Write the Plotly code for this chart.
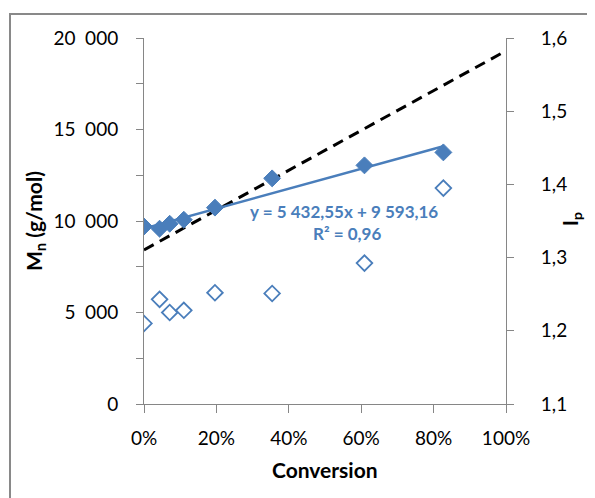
import plotly.graph_objects as go

# ---- data ----
conversion = [0.0, 0.043, 0.071, 0.110, 0.196, 0.354, 0.609, 0.827]
mn_values = [9700, 9580, 9850, 10070, 10730, 12330, 13040, 13750]
ip_values = [1.210, 1.243, 1.225, 1.228, 1.252, 1.251, 1.2925, 1.395]

theory_x = [0.0, 1.0]
theory_mn = [8420, 19300]

trend_slope = 5432.55
trend_intercept = 9593.16
trend_x = [0.0, 0.827]
trend_y = [trend_intercept + trend_slope * x for x in trend_x]

mn_tickvals = [0, 5000, 10000, 15000, 20000]
mn_ticktext = ["0", "5\u2002000", "10\u2002000", "15\u2002000", "20\u2002000"]
ip_tickvals = [1.1, 1.2, 1.3, 1.4, 1.5, 1.6]
ip_ticktext = ["1,1", "1,2", "1,3", "1,4", "1,5", "1,6"]
x_tickvals = [0, 0.2, 0.4, 0.6, 0.8, 1.0]
x_ticktext = ["0%", "20%", "40%", "60%", "80%", "100%"]

BLUE = "#4A7EBB"
AXIS = "#868686"
FONT = "Lato"

fig = go.Figure()

fig.add_trace(go.Scatter(
    x=theory_x, y=theory_mn, mode="lines",
    line=dict(color="black", width=3, dash="11px,7px"),
    showlegend=False, hoverinfo="skip"))

fig.add_trace(go.Scatter(
    x=trend_x, y=trend_y, mode="lines",
    line=dict(color=BLUE, width=2.5),
    showlegend=False, hoverinfo="skip"))

fig.add_trace(go.Scatter(
    x=conversion, y=mn_values, mode="markers",
    marker=dict(symbol="diamond", size=13, color=BLUE,
                line=dict(color=BLUE, width=1)),
    showlegend=False))

fig.add_trace(go.Scatter(
    x=conversion, y=ip_values, mode="markers", yaxis="y2",
    marker=dict(symbol="diamond-open", size=12, color=BLUE,
                line=dict(color=BLUE, width=1.8)),
    showlegend=False))

# page has an 8px body margin; work in screen pixels and shift
OFF = 8
W, H = 595 - OFF, 498 - OFF
X0, X1, Y0, Y1 = 144, 506, 38, 404   # plot area in screen pixels
L, T = X0 - OFF, Y0 - OFF
R, B = W - (X1 - OFF), H - (Y1 - OFF)
pw, ph = X1 - X0, Y1 - Y0


def px(xs):
    return (xs - X0) / pw


def py(ys):
    return (Y1 - ys) / ph


tick_font = dict(family=FONT, size=19, color="black")

fig.update_layout(
    width=W, height=H,
    margin=dict(l=L, r=R, t=T, b=B),
    paper_bgcolor="white", plot_bgcolor="white",
    font=dict(family=FONT, size=19, color="black"),
    xaxis=dict(
        range=[0, 1], tickvals=x_tickvals, ticktext=x_ticktext,
        showline=True, linecolor=AXIS, linewidth=1,
        ticks="outside", ticklen=8, tickcolor=AXIS, tickwidth=1,
        showgrid=False, zeroline=False, ticklabelstandoff=9,
        tickfont=tick_font,
    ),
    yaxis=dict(
        range=[0, 20000], tickvals=mn_tickvals, ticktext=mn_ticktext,
        showline=True, linecolor=AXIS, linewidth=1,
        ticks="outside", ticklen=7, tickcolor=AXIS, tickwidth=1,
        minor=dict(tickvals=[2500, 7500, 12500, 17500], ticks="outside",
                   ticklen=7, tickcolor=AXIS, tickwidth=1, showgrid=False),
        showgrid=False, zeroline=False, ticklabelstandoff=14,
        tickfont=tick_font,
    ),
    yaxis2=dict(
        range=[1.1, 1.6], tickvals=ip_tickvals, ticktext=ip_ticktext,
        overlaying="y", side="right",
        showline=True, linecolor=AXIS, linewidth=1,
        ticks="outside", ticklen=7, tickcolor=AXIS, tickwidth=1,
        showgrid=False, zeroline=False, ticklabelstandoff=23,
        tickfont=tick_font,
    ),
    shapes=[dict(
        type="rect", xref="paper", yref="paper",
        x0=px(10), x1=px(640), y0=py(540), y1=py(14),
        line=dict(color="#898989", width=2), fillcolor="rgba(0,0,0,0)",
        layer="above")],
    annotations=[
        dict(text="<b>Conversion</b>", x=px(325), y=py(469), xref="paper",
             yref="paper", showarrow=False, xanchor="center",
             yanchor="middle", font=dict(family=FONT, size=21)),
        dict(text="<b>M<sub>n</sub> (g/mol)</b>", x=px(35), y=py(221),
             xref="paper", yref="paper", showarrow=False, textangle=-90,
             xanchor="center", yanchor="middle",
             font=dict(family=FONT, size=21)),
        dict(text="<b>I<sub>p</sub></b>", x=px(571), y=py(219),
             xref="paper", yref="paper", showarrow=False, textangle=-90,
             xanchor="center", yanchor="middle",
             font=dict(family=FONT, size=20)),
        dict(text="<b>y = 5 432,55x + 9 593,16</b>", x=px(344), y=py(211),
             xref="paper", yref="paper", showarrow=False,
             xanchor="center", yanchor="middle",
             font=dict(family=FONT, size=17, color=BLUE)),
        dict(text="<b>R² = 0,96</b>", x=px(347), y=py(234),
             xref="paper", yref="paper", showarrow=False,
             xanchor="center", yanchor="middle",
             font=dict(family=FONT, size=17, color=BLUE)),
    ],
)

fig.write_html("out.html")
